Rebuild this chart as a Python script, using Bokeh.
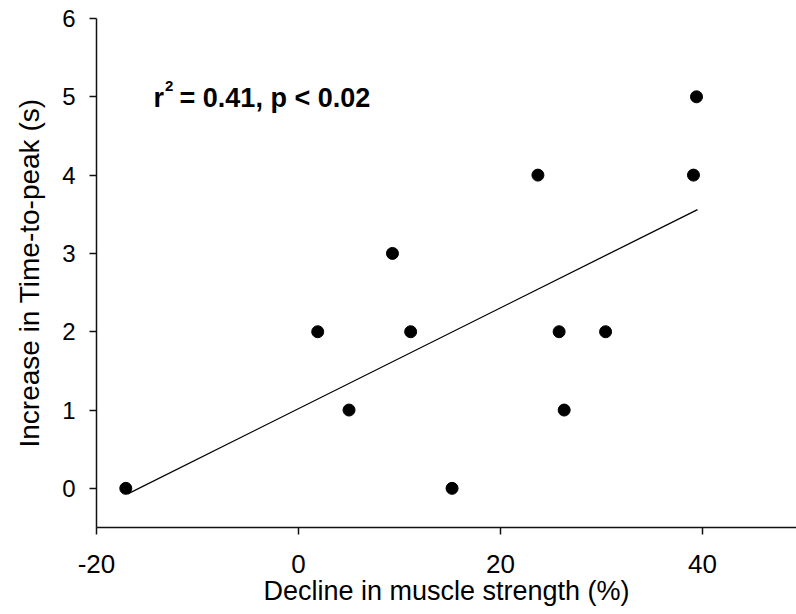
from bokeh.plotting import figure
from bokeh.models import Range1d, FixedTicker, Label
from bokeh.embed import file_html
from bokeh.resources import INLINE

# Data
decline_pct = [-17.1, 1.9, 5.0, 9.3, 11.1, 15.2, 23.7, 25.8, 26.3, 30.4, 39.1, 39.4]
ttp_increase = [0, 2, 1, 3, 2, 0, 4, 2, 1, 2, 4, 5]
fit_x = [-16.9, 39.5]
fit_y = [-0.07, 3.56]
x_ticks = [-20, 0, 20, 40]
x_tick_labels = ["-20", "0", "20", "40"]
y_ticks = [0, 1, 2, 3, 4, 5, 6]
x_title = "Decline in muscle strength (%)"
y_title = "Increase in Time-to-peak (s)"
stat_r = "r"
stat_sup = "2"
stat_rest = "= 0.41, p < 0.02"

FONT = "Liberation Sans"

p = figure(width=796, height=614, output_backend="svg", toolbar_location=None,
           x_range=Range1d(-20, 49.3), y_range=Range1d(-0.5, 6),
           min_border_left=96, min_border_right=0, min_border_top=18, min_border_bottom=87)
p.outline_line_color = None
p.xgrid.visible = False
p.ygrid.visible = False
p.background_fill_color = "white"
p.border_fill_color = "white"

for ax in (p.xaxis[0], p.yaxis[0]):
    ax.axis_line_color = "#111111"
    ax.axis_line_width = 1.5
    ax.major_tick_line_color = "#111111"
    ax.major_tick_line_width = 1.5
    ax.major_tick_in = 0
    ax.major_tick_out = 7
    ax.minor_tick_line_color = None
    ax.major_label_text_font = FONT
    ax.major_label_text_color = "black"
    ax.axis_label_text_font = FONT
    ax.axis_label_text_font_style = "normal"
    ax.axis_label_text_color = "black"

p.xaxis.ticker = FixedTicker(ticks=x_ticks)
p.xaxis.major_label_overrides = {t: s for t, s in zip(x_ticks, x_tick_labels)}
p.yaxis.ticker = FixedTicker(ticks=y_ticks)
p.xaxis.major_label_text_font_size = "26px"
p.yaxis.major_label_text_font_size = "24px"
p.xaxis.major_label_standoff = 20
p.yaxis.major_label_standoff = 14
p.xaxis.axis_label = x_title
p.yaxis.axis_label = y_title
p.xaxis.axis_label_text_font_size = "27px"
p.yaxis.axis_label_text_font_size = "28px"
p.xaxis.axis_label_standoff = 0
p.yaxis.axis_label_standoff = 14

p.line(fit_x, fit_y, line_color="black", line_width=1.3)
p.scatter(decline_pct, ttp_increase, size=12, fill_color="black", line_color="black")

ax0, ay0 = -14.35, 4.99
p.add_layout(Label(x=ax0, y=ay0, text=stat_r, text_font=FONT, text_font_style="bold",
                   text_font_size="27px", text_baseline="alphabetic", text_color="black"))
p.add_layout(Label(x=ax0, y=ay0 + 0.15, x_offset=11.5, text=stat_sup, text_font=FONT,
                   text_font_style="bold", text_font_size="15px", text_baseline="alphabetic",
                   text_color="black"))
p.add_layout(Label(x=ax0, y=ay0, x_offset=26, text=stat_rest, text_font=FONT,
                   text_font_style="bold", text_font_size="27px", text_baseline="alphabetic",
                   text_color="black"))

open("out.html", "w").write(file_html(p, INLINE))
